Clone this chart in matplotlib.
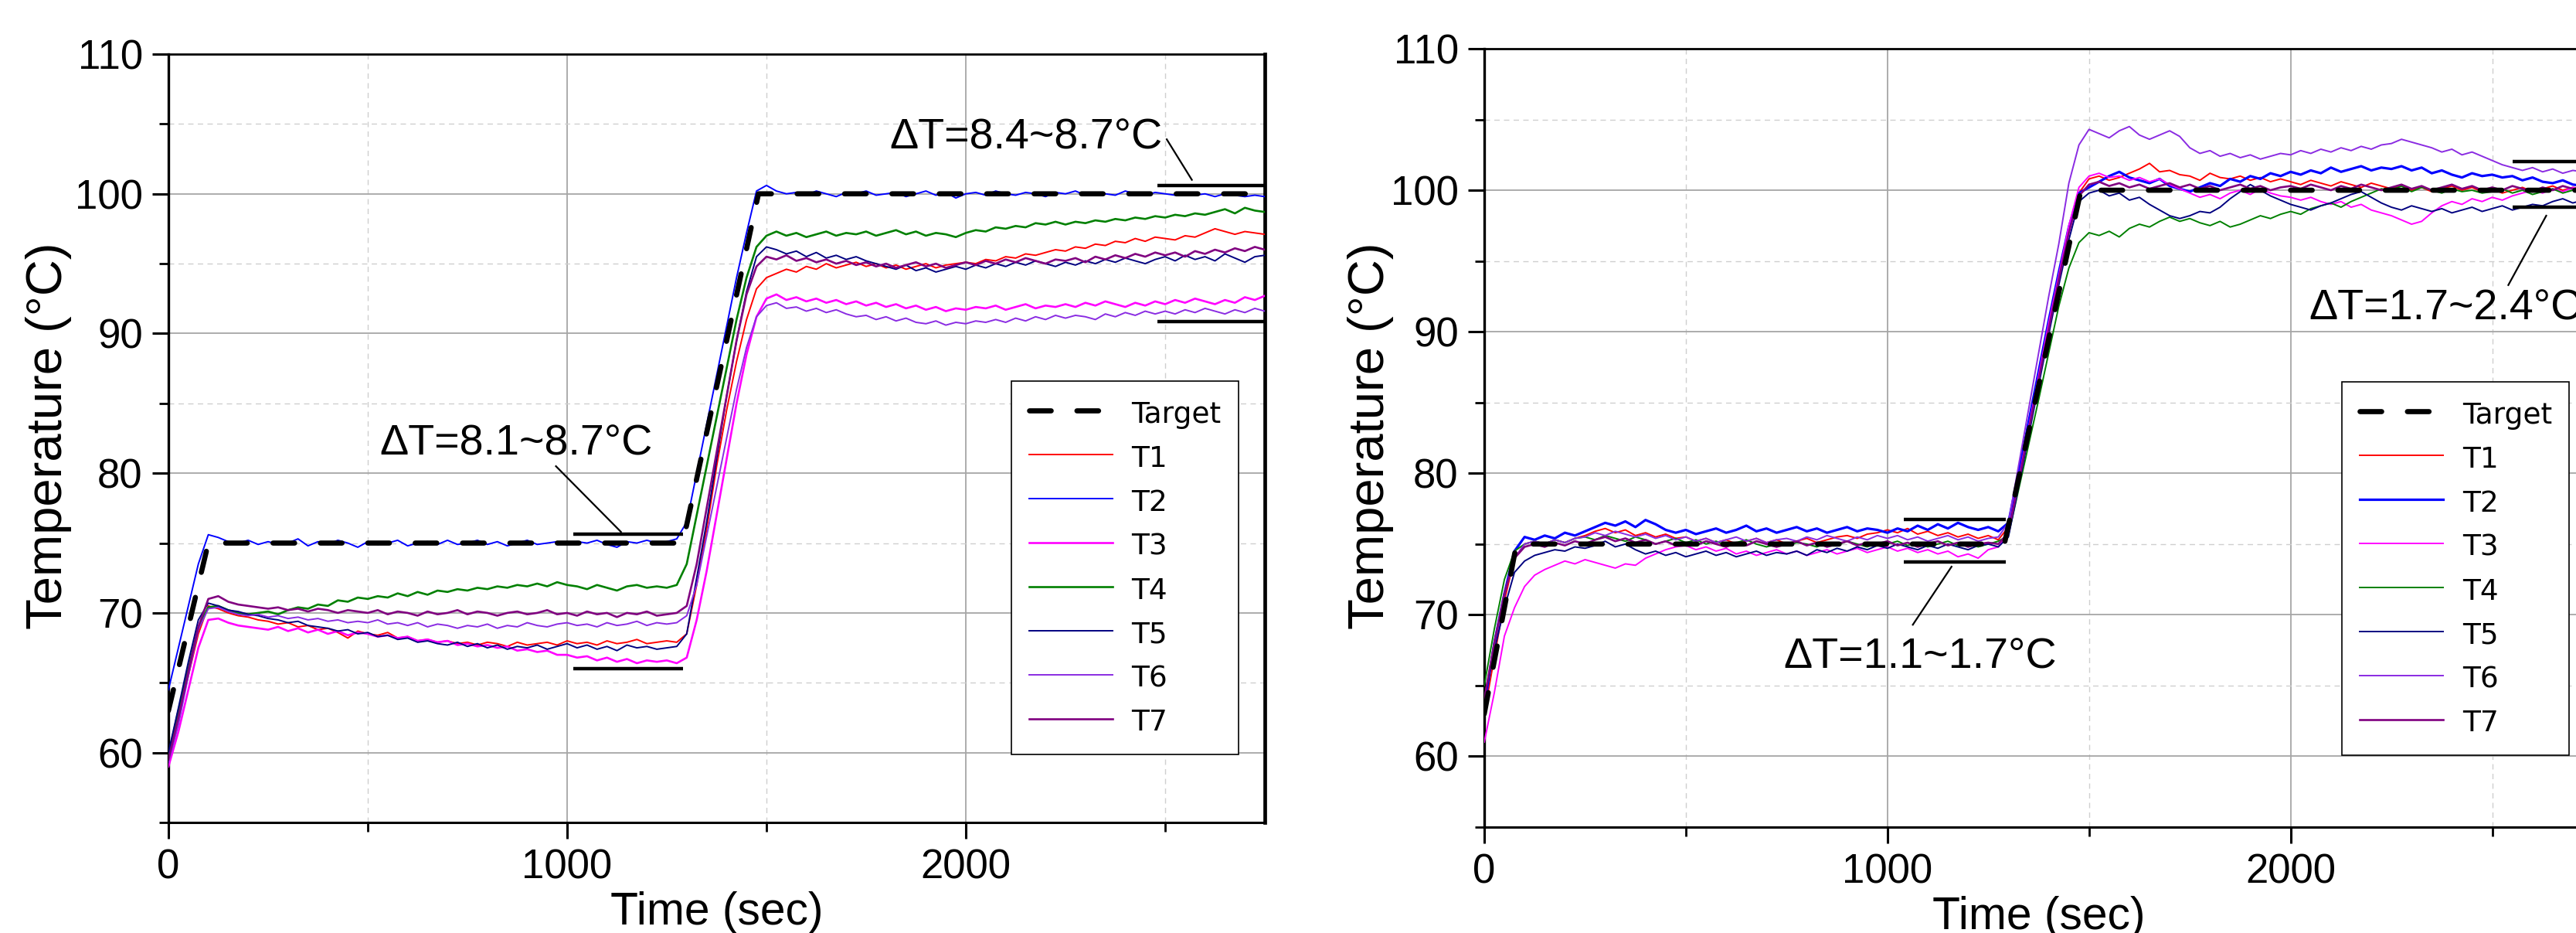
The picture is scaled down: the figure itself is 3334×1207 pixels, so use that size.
import numpy as np
import matplotlib
matplotlib.use("Agg")
import matplotlib.pyplot as plt
from matplotlib.ticker import MultipleLocator
from matplotlib import font_manager as fm

# ---------------- data (sampled every 25 s) ----------------
STEP = 25

target_a_t = [0, 100, 1290, 1480, 2750]
target_a_v = [63, 75, 75, 100, 100]
target_b_t = [0, 80, 1290, 1480, 2750]
target_b_v = [63, 75, 75, 100, 100]

a_T1 = [59.5, 62.5, 65.5, 68.5, 70.5, 70.3, 70.0, 69.8, 69.7, 69.5,
        69.4, 69.2, 69.3, 69.0, 69.1, 68.8, 68.9, 68.6, 68.2, 68.7,
        68.5, 68.4, 68.6, 68.2, 68.3, 68.0, 68.1, 67.9, 68.0, 67.8,
        67.9, 67.7, 67.9, 67.8, 67.6, 67.9, 67.7, 67.8, 67.9, 67.7,
        68.0, 67.8, 67.9, 67.7, 68.0, 67.8, 67.9, 68.1, 67.8, 67.9,
        68.0, 67.9, 68.5, 72.0, 76.0, 80.5, 84.5, 88.0, 91.0, 93.2,
        94.0, 94.3, 94.6, 94.4, 94.8, 94.6, 95.0, 94.7, 94.9, 95.1,
        94.8, 95.0, 94.7, 94.9, 94.6, 94.8, 95.0, 94.7, 94.9, 95.0,
        95.1, 95.0, 95.3, 95.2, 95.5, 95.4, 95.7, 95.6, 95.8, 96.0,
        95.9, 96.2, 96.1, 96.4, 96.3, 96.6, 96.5, 96.8, 96.6, 96.9,
        96.8, 96.7, 97.0, 96.9, 97.2, 97.5, 97.3, 97.1, 97.3, 97.2,
        97.1]
a_T2 = [64.5, 67.5, 70.5, 73.5, 75.6, 75.4, 75.1, 75.0, 75.2, 74.9,
        75.1, 74.9, 75.0, 75.3, 74.8, 75.1, 74.9, 75.2, 75.0, 74.7,
        75.1, 74.9, 75.0, 75.2, 74.8, 75.0, 75.1, 74.9, 75.2, 74.9,
        75.0, 75.2, 74.9, 75.1, 74.8, 75.0, 75.2, 74.9, 75.0, 75.1,
        74.9, 75.1, 75.0, 75.2, 74.9, 74.7, 75.1, 75.0, 75.2, 75.0,
        75.1, 75.3, 76.5, 80.0, 83.5, 87.0, 90.5, 94.0, 97.2, 100.2,
        100.6, 100.2, 100.0, 100.1, 99.9, 100.2, 100.0, 99.8, 100.1, 100.0,
        100.2, 99.9, 100.0, 100.1, 99.8, 100.0, 100.2, 99.9, 100.1, 99.7,
        100.0, 100.1, 99.9, 100.2, 100.0, 99.9, 100.1, 100.0, 99.8, 100.1,
        100.0, 100.2, 99.9, 100.1, 100.0, 99.9, 100.2, 100.0, 99.9, 100.1,
        100.0, 99.9, 100.1, 99.9, 100.0, 99.8, 100.0, 99.9, 99.8, 99.9,
        99.8]
a_T3 = [59.0, 61.5, 64.5, 67.5, 69.5, 69.6, 69.3, 69.1, 69.0, 68.9,
        68.8, 69.0, 68.7, 68.9, 68.6, 68.8, 68.5, 68.7, 68.4, 68.6,
        68.5, 68.3, 68.4, 68.2, 68.3, 68.0, 68.1, 67.9, 68.0, 67.7,
        67.8, 67.6, 67.7, 67.5, 67.6, 67.3, 67.4, 67.2, 67.3, 67.0,
        67.0, 66.8, 66.9, 66.6, 66.8, 66.5, 66.7, 66.4, 66.6, 66.5,
        66.6, 66.4, 66.8, 69.5, 73.0, 77.0, 81.0, 85.0, 88.5, 91.2,
        92.5, 92.8, 92.4, 92.6, 92.3, 92.5, 92.2, 92.4, 92.1, 92.3,
        92.0, 92.2, 91.9, 92.1, 91.8, 92.0, 91.7, 91.9, 91.6, 91.8,
        91.7, 91.9, 91.8, 92.0, 91.7, 91.9, 92.1, 91.8, 92.0, 91.9,
        92.1, 91.9, 92.2, 92.0, 92.3, 92.1, 91.9, 92.2, 92.0, 92.3,
        92.1, 92.4, 92.2, 92.5, 92.3, 92.1, 92.4, 92.2, 92.6, 92.4,
        92.7]
a_T4 = [59.8, 63.0, 66.0, 69.0, 70.4, 70.5, 70.2, 70.0, 69.9, 70.0,
        70.1, 69.9, 70.2, 70.4, 70.3, 70.6, 70.5, 70.9, 70.8, 71.1,
        71.0, 71.2, 71.1, 71.4, 71.2, 71.5, 71.3, 71.6, 71.5, 71.7,
        71.6, 71.8, 71.7, 71.9, 71.8, 72.0, 71.9, 72.1, 71.9, 72.2,
        72.0, 71.9, 71.7, 72.0, 71.8, 71.6, 71.9, 72.0, 71.8, 71.9,
        71.8, 72.0, 73.5, 77.0, 80.5, 84.0, 87.5, 91.0, 94.0, 96.2,
        97.0, 97.3, 97.0, 97.2, 96.9, 97.1, 97.3, 97.0, 97.2, 97.1,
        97.3, 97.0, 97.2, 97.4, 97.1, 97.3, 97.0, 97.2, 97.1, 96.9,
        97.2, 97.4, 97.3, 97.6, 97.5, 97.7, 97.6, 97.9, 97.8, 98.0,
        97.8, 98.0, 97.9, 98.1, 98.0, 98.2, 98.1, 98.3, 98.2, 98.4,
        98.3, 98.5, 98.4, 98.6, 98.5, 98.7, 98.9, 98.6, 99.0, 98.8,
        98.7]
a_T5 = [60.0, 63.2, 66.5, 69.5, 70.7, 70.5, 70.2, 70.1, 69.9, 69.8,
        69.6, 69.5, 69.3, 69.4, 69.1, 69.0, 68.9, 68.7, 68.8, 68.5,
        68.6, 68.3, 68.4, 68.1, 68.2, 67.9, 68.0, 67.8, 67.7, 67.9,
        67.6, 67.8, 67.5, 67.7, 67.4, 67.6, 67.5, 67.7, 67.4, 67.6,
        67.8, 67.5, 67.7, 67.4, 67.6, 67.3, 67.7, 67.5, 67.6, 67.4,
        67.5, 67.6, 68.5, 72.5, 76.5, 81.0, 85.5, 89.5, 93.0, 95.5,
        96.2, 96.0, 95.7, 95.9, 95.5, 95.8, 95.4, 95.6, 95.3, 95.5,
        95.2, 95.0, 94.8, 94.6, 94.9, 94.5, 94.7, 94.4, 94.6, 94.8,
        94.6, 94.9, 94.7, 95.0, 94.8, 95.1, 94.9, 95.2, 95.0, 94.8,
        95.1, 94.9, 95.2, 95.0, 95.3, 95.1, 95.4, 95.2, 95.0, 95.3,
        95.5, 95.2, 95.6, 95.3, 95.5, 95.2, 95.7, 95.4, 95.1, 95.5,
        95.6]
a_T6 = [59.3, 62.0, 65.5, 68.8, 70.3, 70.4, 70.1, 69.9, 69.8, 69.9,
        69.7, 69.8, 69.6, 69.7, 69.5, 69.6, 69.4, 69.5, 69.3, 69.4,
        69.3, 69.5, 69.2, 69.3, 69.1, 69.3, 69.0, 69.2, 69.1, 68.9,
        69.1, 69.0, 69.2, 68.9, 69.1, 69.0, 69.3, 69.1, 69.0, 69.2,
        69.3, 69.1, 69.2, 69.0, 69.3, 69.1, 69.2, 69.4, 69.1, 69.3,
        69.2, 69.3, 69.8, 72.0, 75.5, 79.0, 82.5, 86.0, 89.0, 91.2,
        92.0, 92.2, 91.8, 91.9, 91.6, 91.8, 91.5, 91.7, 91.4, 91.2,
        91.3, 91.0, 91.2, 90.9, 91.1, 90.8, 90.7, 90.9, 90.6, 90.8,
        90.7, 90.9, 90.8, 91.0, 90.8, 91.1, 90.9, 91.2, 91.0, 91.3,
        91.1, 91.3, 91.2, 91.0, 91.4, 91.2, 91.5, 91.3, 91.6, 91.4,
        91.6, 91.4, 91.7, 91.5, 91.8, 91.6, 91.4, 91.7, 91.5, 91.8,
        91.6]
a_T7 = [59.5, 62.5, 65.8, 69.0, 71.0, 71.2, 70.8, 70.6, 70.5, 70.4,
        70.3, 70.4, 70.2, 70.3, 70.1, 70.3, 70.2, 70.0, 70.2, 70.1,
        70.0, 70.2, 69.9, 70.1, 70.0, 69.8, 70.1, 69.9, 70.0, 70.2,
        69.9, 70.1, 70.0, 69.8, 70.0, 70.1, 69.9, 70.0, 70.2, 69.9,
        70.0, 69.8, 70.1, 69.9, 70.0, 69.7, 70.0, 69.9, 70.1, 69.8,
        69.9, 70.0, 70.5, 73.5, 77.5, 81.5, 85.5, 89.5, 92.8, 94.8,
        95.5, 95.3, 95.6, 95.2, 95.4, 95.1, 95.3, 95.0, 95.2, 94.9,
        95.1, 94.8, 95.0, 94.7, 94.9, 95.1, 94.8, 95.0, 94.7, 94.9,
        95.1, 94.9, 95.2, 95.0, 95.3, 95.1, 95.4, 95.2, 95.0, 95.3,
        95.2, 95.4, 95.1, 95.5, 95.3, 95.6, 95.4, 95.7, 95.5, 95.8,
        95.6, 95.8, 95.5, 95.9, 95.7, 96.0, 95.8, 96.1, 95.9, 96.2,
        96.0]

b_T1 = [63.0, 67.0, 71.0, 74.0, 75.0, 75.2, 75.0, 75.3, 75.1, 75.4,
        75.6, 75.9, 76.1, 75.8, 76.0, 75.6, 75.8, 75.5, 75.7, 75.4,
        75.5, 75.2, 75.4, 75.1, 75.3, 75.0, 75.2, 75.4, 75.1, 75.3,
        75.0, 75.2, 75.4, 75.1, 75.3, 75.5, 75.6, 75.4, 75.7, 75.8,
        76.0, 75.8, 76.1, 75.7, 75.9, 75.6, 75.8, 75.5, 75.7, 75.4,
        75.6, 75.3, 76.2, 79.8, 83.4, 87.0, 90.6, 94.0, 97.2, 99.8,
        100.8, 101.0, 100.7, 100.9, 101.2, 101.5, 101.9, 101.3, 101.4, 101.1,
        101.0, 100.7, 101.2, 100.9, 100.8, 101.0, 100.7, 100.9, 100.6, 100.8,
        100.6, 100.4, 100.7, 100.5, 100.3, 100.6, 100.4, 100.2, 100.5, 100.3,
        100.1, 100.3, 100.0, 100.2, 99.9, 100.1, 100.3, 100.0, 100.2, 99.9,
        100.1, 99.8, 100.0, 100.2, 99.9, 100.1, 100.3, 100.0, 100.2, 100.1,
        100.0]
b_T2 = [63.5, 68.0, 71.5, 74.5, 75.5, 75.3, 75.6, 75.4, 75.8, 75.6,
        75.9, 76.2, 76.5, 76.3, 76.6, 76.2, 76.7, 76.4, 76.0, 75.8,
        76.0, 75.7, 75.9, 76.1, 75.8, 76.0, 76.3, 75.9, 76.1, 75.8,
        76.0, 76.2, 75.9, 76.1, 75.8, 76.0, 76.2, 75.9, 76.1, 76.0,
        75.8, 76.1, 75.9, 76.3, 76.0, 76.4, 76.1, 76.5, 76.2, 76.0,
        76.2, 75.9, 76.5, 80.0, 83.6, 87.2, 90.8, 94.2, 97.4, 99.8,
        100.2, 100.6, 101.0, 101.3, 100.9, 100.7, 100.5, 100.8, 100.3, 100.1,
        99.9, 100.2, 100.5, 100.3, 100.8, 100.6, 101.0, 100.8, 101.2, 101.0,
        101.3, 101.1, 101.4, 101.2, 101.6, 101.3, 101.5, 101.7, 101.4, 101.6,
        101.5, 101.7, 101.4, 101.6, 101.2, 101.4, 101.1, 100.9, 101.2, 101.0,
        101.1, 100.9, 101.0, 100.7, 100.9, 100.6, 100.5, 100.7, 100.4, 100.3,
        100.3]
b_T3 = [61.0, 64.5, 68.5, 70.5, 72.0, 72.8, 73.2, 73.5, 73.8, 73.6,
        73.9, 73.7, 73.5, 73.3, 73.6, 73.5, 74.0, 74.3, 74.6, 74.8,
        74.9, 74.6, 74.8, 74.5, 74.7, 74.3, 74.5, 74.2, 74.4, 74.6,
        74.3, 74.5, 74.2, 74.4, 74.6, 74.3, 74.5, 74.7, 74.4, 74.6,
        74.8, 74.5, 74.7, 74.4, 74.6, 74.3, 74.5, 74.1, 74.3, 74.0,
        74.6, 74.8, 75.8, 79.5, 83.2, 86.9, 90.6, 94.0, 97.5, 100.2,
        101.0, 101.2, 100.9, 101.0, 100.7, 100.9, 100.6, 100.8, 100.4, 100.1,
        99.8, 99.5, 99.7, 99.4, 99.8, 100.0, 99.7, 100.1, 99.8, 99.6,
        99.5, 99.3, 99.5, 99.2, 99.0, 99.2, 98.8, 99.0, 98.6, 98.4,
        98.2, 97.9, 97.6, 97.8, 98.4, 98.9, 99.2, 99.0, 99.4, 99.2,
        99.5, 99.3, 99.6, 99.8, 100.0, 99.8, 100.1, 99.9, 100.2, 100.0,
        100.1]
b_T4 = [65.0, 69.0, 72.5, 74.5, 75.0, 75.2, 75.0, 75.3, 75.1, 75.4,
        75.5, 75.3, 75.6, 75.4, 75.2, 75.5, 75.3, 75.0, 75.2, 75.4,
        75.1, 75.3, 75.0, 75.2, 74.9, 75.1, 75.3, 75.0, 74.8, 75.0,
        74.9, 75.1, 75.0, 74.8, 75.1, 74.9, 75.2, 75.0, 74.8, 75.1,
        75.0, 75.2, 74.9, 75.1, 74.8, 75.0, 75.2, 74.9, 75.1, 74.8,
        75.0, 75.2, 75.6, 78.8, 82.0, 85.2, 88.5, 91.8, 94.5, 96.3,
        97.0, 96.8, 97.1, 96.7, 97.3, 97.6, 97.4, 97.8, 98.1, 97.8,
        98.0, 97.7, 97.5, 97.8, 97.4, 97.6, 97.9, 98.2, 98.0, 98.3,
        98.5, 98.3, 98.7, 98.9, 99.1, 98.8, 99.2, 99.5, 99.8, 100.1,
        100.0, 100.3, 99.9, 100.2, 100.0, 99.8, 100.1, 99.9, 100.0, 99.8,
        99.9, 100.1, 99.8, 100.0, 99.7, 99.9, 100.1, 99.8, 100.0, 99.9,
        100.0]
b_T5 = [64.0, 67.5, 70.5, 73.0, 73.8, 74.2, 74.4, 74.6, 74.5, 74.8,
        74.7, 74.9, 75.2, 74.8, 75.0, 74.6, 74.3, 74.5, 74.2, 74.4,
        74.1, 74.3, 74.5, 74.2, 74.4, 74.1, 74.3, 74.5, 74.2, 74.4,
        74.3, 74.5, 74.2, 74.6, 74.4, 74.7, 74.5, 74.8, 74.6, 74.9,
        74.7, 75.0, 74.8, 74.6, 74.9, 74.7, 75.0, 74.8, 74.6, 74.9,
        75.0, 74.8, 75.5, 79.0, 82.6, 86.2, 89.8, 93.3, 96.5, 99.2,
        99.8, 100.0, 99.6, 99.8, 99.3, 99.5, 99.0, 98.6, 98.2, 98.0,
        98.2, 98.5, 98.4, 98.8, 99.4, 99.9, 100.4, 100.0, 99.6, 99.3,
        99.0, 98.8, 98.6, 98.9, 99.1, 99.4, 99.7, 99.9, 99.5, 99.1,
        98.8, 98.6, 98.9, 98.7, 98.5, 98.7, 98.4, 98.6, 98.8, 98.5,
        98.7, 98.9, 98.6, 98.8, 99.0, 98.9, 99.2, 99.4, 99.1, 99.3,
        99.3]
b_T6 = [64.0, 68.0, 71.5, 74.0, 75.0, 75.2, 75.0, 75.3, 75.1, 75.4,
        75.5, 75.8, 75.6, 75.9, 75.7, 75.5, 75.7, 75.4, 75.6, 75.3,
        75.5, 75.2, 75.4, 75.1, 75.3, 75.5, 75.2, 75.4, 75.1, 75.3,
        75.4, 75.2, 75.5, 75.3, 75.6, 75.4, 75.2, 75.5, 75.3, 75.6,
        75.4, 75.6, 75.3, 75.5, 75.2, 75.4, 75.6, 75.3, 75.5, 75.2,
        75.4, 75.5, 76.5, 80.5, 84.5, 88.5, 92.5, 96.2, 100.5, 103.2,
        104.3, 104.0, 103.7, 104.2, 104.5, 103.9, 103.6, 103.9, 104.2, 103.8,
        103.0, 102.6, 102.8, 102.4, 102.6, 102.3, 102.5, 102.2, 102.4, 102.6,
        102.5, 102.8, 102.6, 102.9, 102.7, 103.0, 102.8, 103.1, 102.9, 103.2,
        103.3, 103.6, 103.4, 103.2, 103.0, 102.7, 102.9, 102.5, 102.7, 102.4,
        102.1, 101.8, 101.6, 101.4, 101.6, 101.3, 101.5, 101.2, 101.4, 101.3,
        101.3]
b_T7 = [64.0, 68.0, 71.5, 74.0, 74.8, 75.0, 74.8, 75.1, 74.9, 75.2,
        75.0, 75.3, 75.5, 75.2, 75.4, 75.1, 75.3, 75.0, 75.2, 74.9,
        75.1, 74.9, 75.2, 75.0, 74.8, 75.1, 74.9, 75.2, 75.0, 74.8,
        75.0, 75.2, 74.9, 75.1, 74.8, 75.0, 75.2, 74.9, 75.1, 75.0,
        75.2, 74.9, 75.1, 74.8, 75.0, 75.2, 74.9, 75.1, 74.8, 75.0,
        75.1, 75.0, 75.8, 79.3, 83.0, 86.6, 90.2, 93.7, 97.0, 99.6,
        100.4, 100.6, 100.3, 100.5, 100.2, 100.4, 100.1, 100.3, 100.5, 100.2,
        100.4, 100.1, 100.3, 100.0, 100.2, 100.4, 100.1, 100.3, 100.0, 100.2,
        100.3, 100.1, 100.4, 100.2, 100.0, 100.3, 100.1, 100.4, 100.2, 100.0,
        100.2, 100.4, 100.1, 100.3, 100.0, 100.2, 100.4, 100.1, 100.3, 100.0,
        100.2, 100.0, 100.3, 100.1, 99.9, 100.2, 100.0, 100.3, 100.1, 99.9,
        100.1]

series_names = ["T1", "T2", "T3", "T4", "T5", "T6", "T7"]
series_colors = ["#ff0000", "#0000ff", "#ff00ff", "#008000", "#000080", "#8a2be2", "#800080"]
left_series = [a_T1, a_T2, a_T3, a_T4, a_T5, a_T6, a_T7]
right_series = [b_T1, b_T2, b_T3, b_T4, b_T5, b_T6, b_T7]
left_lw = [1.4, 1.4, 1.9, 1.9, 1.4, 1.4, 1.9]
right_lw = [1.4, 2.3, 1.4, 1.4, 1.4, 1.4, 1.9]

# bracket bars: (t_start, t_end, level)
left_bars = [(1015, 1290, 75.65), (1015, 1290, 66.0), (2480, 2750, 100.6), (2480, 2750, 90.85)]
right_bars = [(1040, 1293, 76.75), (1040, 1293, 73.75), (2550, 2760, 102.0), (2550, 2760, 98.8)]
# annotation texts: (text, x, y, leader start, leader end, ha)
left_notes = [("ΔT=8.1~8.7°C", 872, 82.1, (972, 80.5), (1135, 75.8), "center"),
              ("ΔT=8.4~8.7°C", 2151, 104.0, (2504, 103.9), (2567, 101.0), "center")]
right_notes = [("ΔT=1.1~1.7°C", 1082, 67.0, (1063, 69.3), (1159, 73.4), "center"),
               ("ΔT=1.7~2.4°C", 2046, 91.6, (2540, 93.3), (2634, 98.2), "left")]

# ---------------- fonts ----------------
avail = {f.name for f in fm.fontManager.ttflist}
if "Liberation Sans Narrow" in avail:
    narrow, nscale = "Liberation Sans Narrow", 1.0
else:
    narrow, nscale = "Liberation Sans", 0.9

W, H = 3334, 1207
fig = plt.figure(figsize=(W / 100, H / 100), dpi=100)

def px_axes(x0, y0, x1, y1):
    return [x0 / W, 1 - y1 / H, (x1 - x0) / W, (y1 - y0) / H]

ax1 = fig.add_axes(px_axes(218, 70, 1637, 1064))
ax2 = fig.add_axes(px_axes(1921, 63, 3356, 1070))

def style(ax):
    ax.set_xlim(0, 2750)
    ax.set_ylim(55, 110)
    ax.xaxis.set_major_locator(MultipleLocator(1000))
    ax.xaxis.set_minor_locator(MultipleLocator(500))
    ax.yaxis.set_major_locator(MultipleLocator(10))
    ax.yaxis.set_minor_locator(MultipleLocator(5))
    ax.set_axisbelow(True)
    ax.grid(which="major", color="#a6a6a6", lw=1.3, ls="-")
    ax.grid(which="minor", color="#cfcfcf", lw=1.0, ls=(0, (5, 4)))
    ax.tick_params(which="major", direction="out", length=15, width=2.2,
                   labelsize=38, pad=9)
    ax.tick_params(which="minor", direction="out", length=8.5, width=2.0)
    for lab in ax.get_xticklabels() + ax.get_yticklabels():
        lab.set_fontfamily(narrow)
    ax.spines["left"].set_linewidth(2.4)
    ax.spines["bottom"].set_linewidth(2.2)
    ax.spines["top"].set_linewidth(2.0)
    ax.spines["right"].set_linewidth(3.4)
    ax.set_xlabel("Time (sec)", fontsize=47 * nscale, family=narrow, labelpad=4)
    ax.set_ylabel("Temperature (°C)", fontsize=47, family="Liberation Sans")

def draw(ax, series, lws, tt, tv, bars, notes, leg_xy):
    handles = []
    for vals, name, col, lw in zip(series, series_names, series_colors, lws):
        t = np.arange(len(vals)) * STEP
        h, = ax.plot(t, vals, color=col, lw=lw, label=name, zorder=3)
        handles.append(h)
    ht, = ax.plot(tt, tv, color="black", lw=4.8, ls=(0, (4.2, 5.0)),
                  dash_capstyle="round", label="Target", zorder=4)
    for t0, t1, lev in bars:
        ax.plot([t0, t1], [lev, lev], color="black", lw=3.2, zorder=5,
                solid_capstyle="butt", clip_on=False)
    for txt, x, y, p0, p1, ha in notes:
        ax.text(x, y, txt, fontsize=44.5 * nscale, family=narrow, ha=ha, va="center", zorder=6)
        ax.plot([p0[0], p1[0]], [p0[1], p1[1]], color="black", lw=1.6, zorder=6)
    leg = ax.legend([ht] + handles, ["Target"] + series_names,
                    loc="upper left", bbox_to_anchor=(leg_xy[0] / W, 1 - leg_xy[1] / H),
                    bbox_transform=fig.transFigure, prop={"family": "DejaVu Sans", "size": 27},
                    handlelength=2.9, handleheight=1.15, handletextpad=0.65, labelspacing=0.47,
                    borderpad=0.6, borderaxespad=0, fancybox=False, framealpha=1,
                    edgecolor="black")
    leg.get_frame().set_linewidth(1.2)
    leg.set_zorder(10)

style(ax1)
style(ax2)
draw(ax1, left_series, left_lw, target_a_t, target_a_v, left_bars, left_notes, (1309, 493))
draw(ax2, right_series, right_lw, target_b_t, target_b_v, right_bars, right_notes, (3031, 494))

ax1.yaxis.set_label_coords(-0.088, 0.503)
ax2.yaxis.set_label_coords(-0.0815, 0.503)

fig.savefig("out.png", dpi=100)
